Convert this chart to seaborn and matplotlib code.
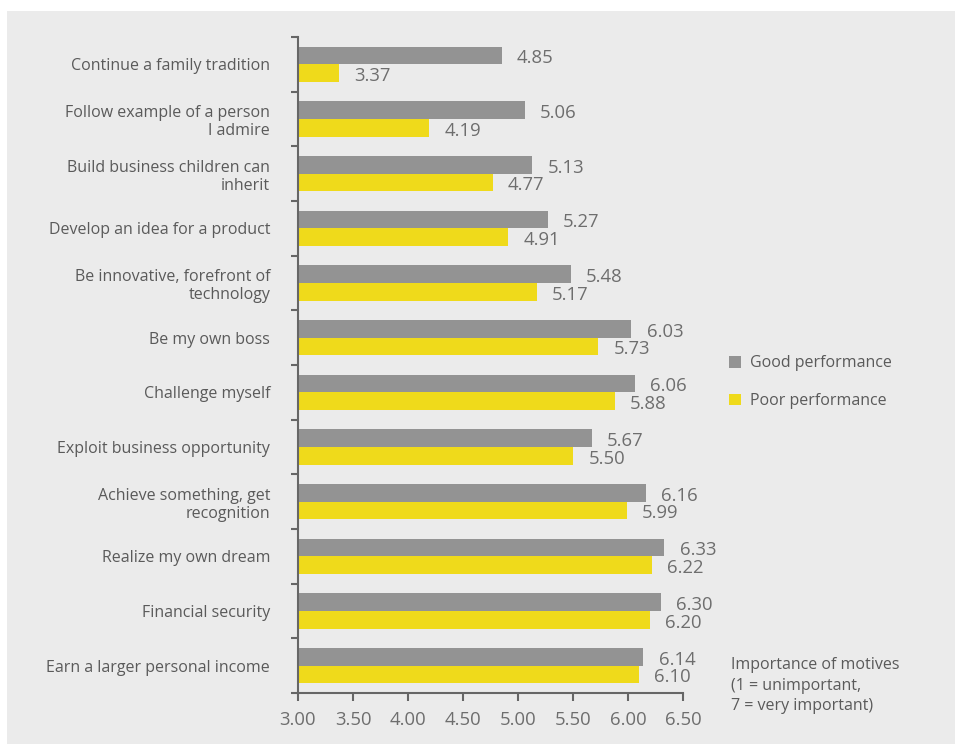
import matplotlib
matplotlib.use("Agg")
import matplotlib.pyplot as plt
import matplotlib.patches as mpatches
import seaborn as sns
import pandas as pd

motives = [
    "Continue a family tradition",
    "Follow example of a person\nI admire",
    "Build business children can\ninherit",
    "Develop an idea for a product",
    "Be innovative, forefront of\ntechnology",
    "Be my own boss",
    "Challenge myself",
    "Exploit business opportunity",
    "Achieve something, get\nrecognition",
    "Realize my own dream",
    "Financial security",
    "Earn a larger personal income",
]
good = [4.85, 5.06, 5.13, 5.27, 5.48, 6.03, 6.06, 5.67, 6.16, 6.33, 6.30, 6.14]
poor = [3.37, 4.19, 4.77, 4.91, 5.17, 5.73, 5.88, 5.50, 5.99, 6.22, 6.20, 6.10]
series = ["Good performance", "Poor performance"]
x_ticks = [3.00, 3.50, 4.00, 4.50, 5.00, 5.50, 6.00, 6.50]
note = "Importance of motives\n(1 = unimportant,\n7 = very important)"

GREY = "#939393"
YELLOW = "#efda1b"
TEXT = "#5a5a5a"
NUM = "#6e6e6e"
AXIS = "#666666"
PANEL = "#ebebeb"

df = pd.DataFrame({
    "motive": motives * 2,
    "score": good + poor,
    "group": [series[0]] * len(good) + [series[1]] * len(poor),
})

sns.set_theme(style="white")
plt.rcParams["font.family"] = ["Open Sans", "DejaVu Sans"]
plt.rcParams["font.size"] = 11

fig = plt.figure(figsize=(9.6, 7.44), dpi=100)
fig.patch.set_facecolor("white")
panel = mpatches.Rectangle((7 / 960, 0), 948 / 960, 733 / 744,
                           transform=fig.transFigure,
                           facecolor=PANEL, edgecolor="none", zorder=-10)
fig.add_artist(panel)

ax = fig.add_axes([298 / 960, 1 - 693 / 744, 385 / 960, 656 / 744])
ax.set_facecolor("none")
ax.set_zorder(5)

sns.barplot(data=df, y="motive", x="score", hue="group", order=motives,
            hue_order=series, palette=[GREY, YELLOW], width=0.65,
            orient="h", saturation=1, ax=ax, legend=False, edgecolor="none")

# value labels just right of each bar, nudged down to sit on the bar's centre
for cont in ax.containers:
    for ann in ax.bar_label(cont, fmt="%.2f", padding=11, color=NUM, fontsize=13.3):
        ann.xyann = (11, -2)

ax.set_xlim(3.0, 6.5)
ax.set_ylim(len(motives) - 0.5, -0.5)
ax.set_xticks(x_ticks)
ax.set_xticklabels([f"{v:.2f}" for v in x_ticks], color=NUM, fontsize=13.3)
ax.set_xlabel("")
ax.set_ylabel("")

ax.set_yticks(range(len(motives)))
ax.set_yticklabels(motives, color=TEXT, fontsize=11.5)
ax.set_yticks([i - 0.5 for i in range(len(motives) + 1)], minor=True)
ax.tick_params(axis="y", which="major", left=False, length=0, pad=20)
ax.tick_params(axis="y", which="minor", left=True, length=5, width=1.5,
               color=AXIS, direction="out")
ax.tick_params(axis="x", which="major", bottom=True, length=6, width=1.5,
               color=AXIS, direction="out", pad=7)

for side in ("top", "right"):
    ax.spines[side].set_visible(False)
for side in ("left", "bottom"):
    ax.spines[side].set_color(AXIS)
    ax.spines[side].set_linewidth(1.5)

handles = [mpatches.Patch(facecolor=GREY, edgecolor="none", label=series[0]),
           mpatches.Patch(facecolor=YELLOW, edgecolor="none", label=series[1])]
leg = fig.legend(handles=handles, loc="upper left",
                 bbox_to_anchor=(715 / 960, 1 - 341 / 744), frameon=False,
                 handlelength=0.75, handleheight=0.75, handletextpad=0.55,
                 labelspacing=1.35, fontsize=11.5)
for t in leg.get_texts():
    t.set_color(TEXT)

fig.text(731 / 960, 1 - 657 / 744, note, ha="left", va="top",
         color=TEXT, fontsize=11.5, linespacing=1.38)

fig.savefig("out.png", dpi=100)
